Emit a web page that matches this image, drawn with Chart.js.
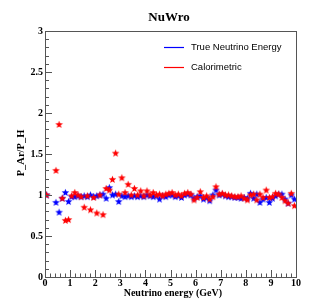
<!DOCTYPE html>
<html>
<head>
<meta charset="utf-8">
<script src="https://cdn.jsdelivr.net/npm/chart.js@4.4.1/dist/chart.umd.min.js"></script>
<style>
  html, body { margin: 0; padding: 0; background: #fff; }
  canvas { display: block; }
</style>
</head>
<body>
<canvas id="ratio-chart" width="315" height="307"></canvas>
<script>
// bin centres in GeV (0.125 GeV bins)
const energyBins = [
  0.0625, 0.1875, 0.3125, 0.4375, 0.5625, 0.6875, 0.8125, 0.9375,
  1.0625, 1.1875, 1.3125, 1.4375, 1.5625, 1.6875, 1.8125, 1.9375,
  2.0625, 2.1875, 2.3125, 2.4375, 2.5625, 2.6875, 2.8125, 2.9375,
  3.0625, 3.1875, 3.3125, 3.4375, 3.5625, 3.6875, 3.8125, 3.9375,
  4.0625, 4.1875, 4.3125, 4.4375, 4.5625, 4.6875, 4.8125, 4.9375,
  5.0625, 5.1875, 5.3125, 5.4375, 5.5625, 5.6875, 5.8125, 5.9375,
  6.0625, 6.1875, 6.3125, 6.4375, 6.5625, 6.6875, 6.8125, 6.9375,
  7.0625, 7.1875, 7.3125, 7.4375, 7.5625, 7.6875, 7.8125, 7.9375,
  8.0625, 8.1875, 8.3125, 8.4375, 8.5625, 8.6875, 8.8125, 8.9375,
  9.0625, 9.1875, 9.3125, 9.4375, 9.5625, 9.6875, 9.8125, 9.9375
];

const trueEnergyRatio = [
  1.00, null, null, 0.91, 0.79, 0.96, 1.03, 0.92,
  0.98, 0.98, 0.99, 0.98, 0.99, 0.98, 1.00, 0.98,
  0.99, 1.00, 1.01, 0.96, 1.09, 1.00, 1.01, 0.92,
  0.99, 0.98, 0.99, 0.98, 0.99, 0.98, 0.99, 0.98,
  1.00, 0.99, 0.98, 0.99, 0.95, 0.99, 0.98, 1.00,
  1.00, 0.98, 0.99, 0.97, 1.00, 1.01, 1.00, 0.96,
  0.98, 0.99, 0.95, 0.97, 0.93, 1.00, 1.06, 1.00,
  1.01, 0.99, 0.98, 0.98, 0.97, 0.97, 0.96, 0.97,
  0.96, 1.02, 0.96, 1.01, 0.91, 0.95, 0.97, 0.91,
  0.96, 0.99, 1.01, 1.01, 0.95, 0.90, 1.00, 0.95
];

const calorimetricRatio = [
  1.00, null, null, 1.30, 1.86, 0.96, 0.69, 0.70,
  0.99, 1.03, 1.00, 0.98, 0.85, 0.99, 0.82, 0.97,
  0.78, 1.00, 0.76, 1.08, 1.06, 1.19, 1.51, 1.01,
  1.21, 1.03, 1.13, 1.00, 1.08, 1.00, 1.05, 0.99,
  1.05, 1.00, 1.03, 1.00, 1.01, 0.99, 1.01, 1.02,
  1.03, 1.00, 1.01, 0.99, 1.02, 1.03, 1.01, 0.94,
  0.97, 1.04, 0.97, 0.99, 0.95, 0.98, 1.10, 1.01,
  1.02, 1.00, 1.00, 0.99, 0.98, 0.98, 0.99, 0.96,
  0.94, 1.00, 1.01, 0.94, 1.01, 0.97, 1.06, 0.97,
  0.98, 1.02, 1.01, 0.97, 0.93, 0.90, 1.02, 0.87
];

const seriesNames = ['True Neutrino Energy', 'Calorimetric'];
const seriesColors = ['#0000ff', '#ff0000'];

// filled five-point star marker (ROOT style 29)
function makeStar(color) {
  const c = document.createElement('canvas');
  c.width = 9; c.height = 9;
  const g = c.getContext('2d');
  g.fillStyle = color;
  g.beginPath();
  for (let i = 0; i < 10; i++) {
    const r = i % 2 === 0 ? 4 : 1.7;
    const a = -Math.PI / 2 + i * Math.PI / 5;
    const px = 4.5 + r * Math.cos(a), py = 4.7 + r * Math.sin(a);
    if (i === 0) g.moveTo(px, py); else g.lineTo(px, py);
  }
  g.closePath();
  g.fill();
  return c;
}

function toPoints(values) {
  const pts = [];
  values.forEach((v, i) => { if (v !== null) pts.push({ x: energyBins[i], y: v }); });
  return pts;
}

const frameColor = '#555';

const decorations = {
  id: 'decorations',
  beforeDraw(chart) {
    const ctx = chart.ctx;
    ctx.save();
    ctx.fillStyle = '#fff';
    ctx.fillRect(0, 0, chart.width, chart.height);
    ctx.restore();
  },
  afterDraw(chart) {
    const ctx = chart.ctx;
    const a = chart.chartArea;
    const xs = chart.scales.x, ys = chart.scales.y;
    ctx.save();
    ctx.strokeStyle = frameColor;
    ctx.lineWidth = 1;
    // frame
    ctx.strokeRect(Math.round(a.left) + 0.5, Math.round(a.top) + 0.5,
      Math.round(a.right - a.left), Math.round(a.bottom - a.top));
    // inside ticks
    ctx.beginPath();
    for (let k = 0; k <= 50; k++) {
      const v = k * 0.2;
      const px = Math.round(xs.getPixelForValue(v)) + 0.5;
      const len = k % 5 === 0 ? 7 : 3.5;
      ctx.moveTo(px, a.bottom);
      ctx.lineTo(px, a.bottom - len);
    }
    for (let k = 0; k <= 30; k++) {
      const v = k * 0.1;
      const py = Math.round(ys.getPixelForValue(v)) + 0.5;
      const len = k % 5 === 0 ? 7 : 4;
      ctx.moveTo(a.left, py);
      ctx.lineTo(a.left + len, py);
    }
    ctx.stroke();

    // titles
    ctx.fillStyle = '#000';
    ctx.textBaseline = 'middle';
    ctx.font = 'bold 13px "Liberation Serif", serif';
    ctx.textAlign = 'center';
    ctx.fillText('NuWro', 169, 18);

    ctx.font = 'bold 10px "Liberation Serif", serif';
    ctx.textAlign = 'right';
    ctx.fillText('Neutrino energy (GeV)', a.right - 74, 293);

    ctx.save();
    ctx.translate(21, a.top + 122);
    ctx.rotate(-Math.PI / 2);
    ctx.textAlign = 'center';
    ctx.font = 'bold 10.5px "Liberation Serif", serif';
    ctx.fillText('P_Ar/P_H', 0, 0);
    ctx.restore();

    // legend
    ctx.font = '9.5px "Liberation Sans", Arial, sans-serif';
    ctx.textAlign = 'left';
    ctx.lineWidth = 1.2;
    for (let i = 0; i < seriesNames.length; i++) {
      const y = 47.5 + i * 20;
      ctx.beginPath();
      ctx.strokeStyle = seriesColors[i];
      ctx.moveTo(164, y);
      ctx.lineTo(184, y);
      ctx.stroke();
      ctx.fillStyle = '#000';
      ctx.fillText(seriesNames[i], 191, y);
    }
    ctx.restore();
  }
};

const tickFont = { family: '"Liberation Serif", serif', size: 10, weight: 'bold' };

new Chart(document.getElementById('ratio-chart'), {
  type: 'scatter',
  data: {
    datasets: [
      {
        label: seriesNames[0],
        data: toPoints(trueEnergyRatio),
        pointStyle: makeStar(seriesColors[0]),
        backgroundColor: seriesColors[0],
        borderColor: seriesColors[0],
        order: 1,
      },
      {
        label: seriesNames[1],
        data: toPoints(calorimetricRatio),
        pointStyle: makeStar(seriesColors[1]),
        backgroundColor: seriesColors[1],
        borderColor: seriesColors[1],
        order: 0,
      }
    ]
  },
  options: {
    responsive: false,
    animation: false,
    devicePixelRatio: 1,
    layout: { padding: { top: 31, right: 19, left: 0, bottom: 0 } },
    plugins: {
      legend: { display: false },
      tooltip: { enabled: false },
    },
    scales: {
      x: {
        type: 'linear',
        min: 0, max: 10,
        grid: { display: false, drawTicks: false },
        border: { display: false },
        ticks: { stepSize: 1, autoSkip: false, maxRotation: 0, color: '#000', font: tickFont, padding: 0 },
        afterFit(s) { s.height = 30; }
      },
      y: {
        min: 0, max: 3,
        grid: { display: false, drawTicks: false },
        border: { display: false },
        ticks: {
          stepSize: 0.5, autoSkip: false, color: '#000', font: tickFont, padding: 2,
          callback: (v) => String(v)
        },
        afterFit(s) { s.width = 45; }
      }
    }
  },
  plugins: [decorations]
});
</script>
</body>
</html>
